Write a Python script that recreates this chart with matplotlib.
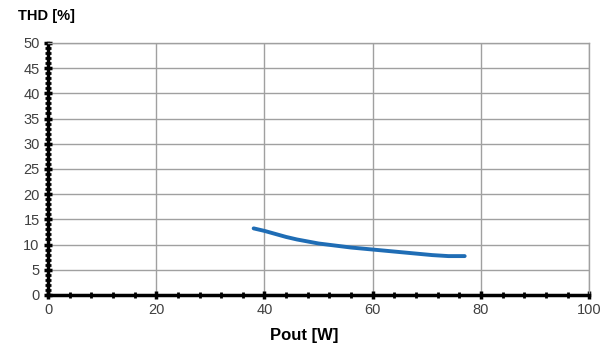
import matplotlib
matplotlib.use("Agg")
import matplotlib.pyplot as plt
from matplotlib.ticker import MultipleLocator

plt.rcParams['font.family'] = ['Liberation Sans', 'DejaVu Sans']

# curve
pout = [38, 40, 42, 44, 46, 48, 50, 53, 56, 60, 64, 68, 71, 74, 76, 77]
thd = [13.2, 12.7, 12.1, 11.5, 11.0, 10.6, 10.2, 9.8, 9.4, 9.0, 8.6, 8.2, 7.9, 7.7, 7.7, 7.7]

x_ticks = [0, 20, 40, 60, 80, 100]
y_ticks = [0, 5, 10, 15, 20, 25, 30, 35, 40, 45, 50]

fig = plt.figure(figsize=(6.08, 3.49), dpi=100)
ax = fig.add_axes([0.079, 0.155, 0.890, 0.722])

ax.plot(pout, thd, color='#1f6db5', lw=2.8, solid_capstyle='round',
        solid_joinstyle='round')

ax.set_xlim(0, 100)
ax.set_ylim(0, 50)
ax.set_xticks(x_ticks)
ax.set_yticks(y_ticks)
ax.xaxis.set_minor_locator(MultipleLocator(4))
ax.yaxis.set_minor_locator(MultipleLocator(1))
ax.grid(True, which='major', color='#a0a0a0', lw=1.0)
ax.set_axisbelow(True)

for s in ['top', 'right']:
    ax.spines[s].set_color('#a0a0a0')
    ax.spines[s].set_linewidth(1.0)
for s in ['left', 'bottom']:
    ax.spines[s].set_color('black')
    ax.spines[s].set_linewidth(2.5)

ax.tick_params(which='major', direction='inout', length=6, width=2.5,
               color='black', labelsize=10.5, labelcolor='#404040', pad=3)
ax.tick_params(which='minor', direction='inout', length=4, width=2,
               color='black')

fig.text(0.03, 0.955, 'THD [%]', fontsize=10.5, fontweight='bold', ha='left', va='center')
fig.text(0.50, 0.04, 'Pout [W]', fontsize=12, fontweight='bold', ha='center', va='center')

fig.savefig('out.png', dpi=100)
